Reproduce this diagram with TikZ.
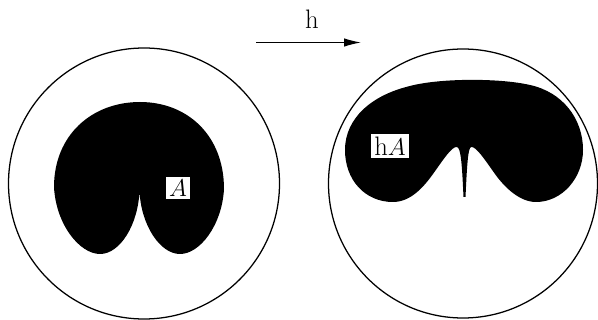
\documentclass[tikz,border=0pt]{standalone}
\usepackage{amsmath}
\usepackage{tikz}
\usetikzlibrary{arrows.meta}

\begin{document}
\begin{tikzpicture}[x=0.025cm, y=-0.025cm,
                    txt/.style={font=\fontsize{19}{21}\selectfont},
                    lbl/.style={txt, fill=white, inner sep=2pt}]
                    \useasboundingbox (0,0) rectangle (598,320);
                    % Discs
                    \draw[line width=0.9pt] (144,183.5) circle[radius=135.5];
                    \draw[line width=0.9pt] (463,183.5) circle[radius=134.5];
                    % Set A
                    \fill (139.5,191) .. controls (138,225) and (120,254) .. (100,254)
                        .. controls (80,254) and (56,225) .. (54,187)
                        .. controls (54,135) and (92,102) .. (140,102)
                        .. controls (187,102) and (224,135) .. (224,189)
                        .. controls (222,225) and (200,254) .. (180,254)
                        .. controls (160,254) and (141,225) .. (139.5,191) -- cycle;
                    % Set hA
                    \fill (345,150) .. controls (345,118) and (372,95) .. (410,86)
                        .. controls (440,78) and (500,78) .. (530,85)
                        .. controls (562,92) and (583,118) .. (583,150)
                        .. controls (583,178) and (562,202) .. (536,202)
                        .. controls (520,202) and (505,188) .. (495,174)
                        .. controls (485,160) and (476,146) .. (471,147)
                        .. controls (468,148) and (467,165) .. (465.5,197)
                        -- (463.5,197)
                        .. controls (462,165) and (461,148) .. (457,147)
                        .. controls (452,146) and (443,160) .. (433,174)
                        .. controls (423,188) and (410,202) .. (393,202)
                        .. controls (365,202) and (345,180) .. (345,150) -- cycle;
                    % Nodes
                    \node[lbl] (A) at (178,188) {$A$};
                    \node[lbl] (hA) at (390,146) {h$A$};
                    \node[txt] (h) at (312,19) {h};
                    \coordinate (from) at (256,42.5);
                    \coordinate (to) at (361,42.5);
                    % Edges
                    \draw[-{Latex[length=12pt,width=6pt]}, line width=0.8pt] (from) -- (to);
                \end{tikzpicture}
\end{document}
